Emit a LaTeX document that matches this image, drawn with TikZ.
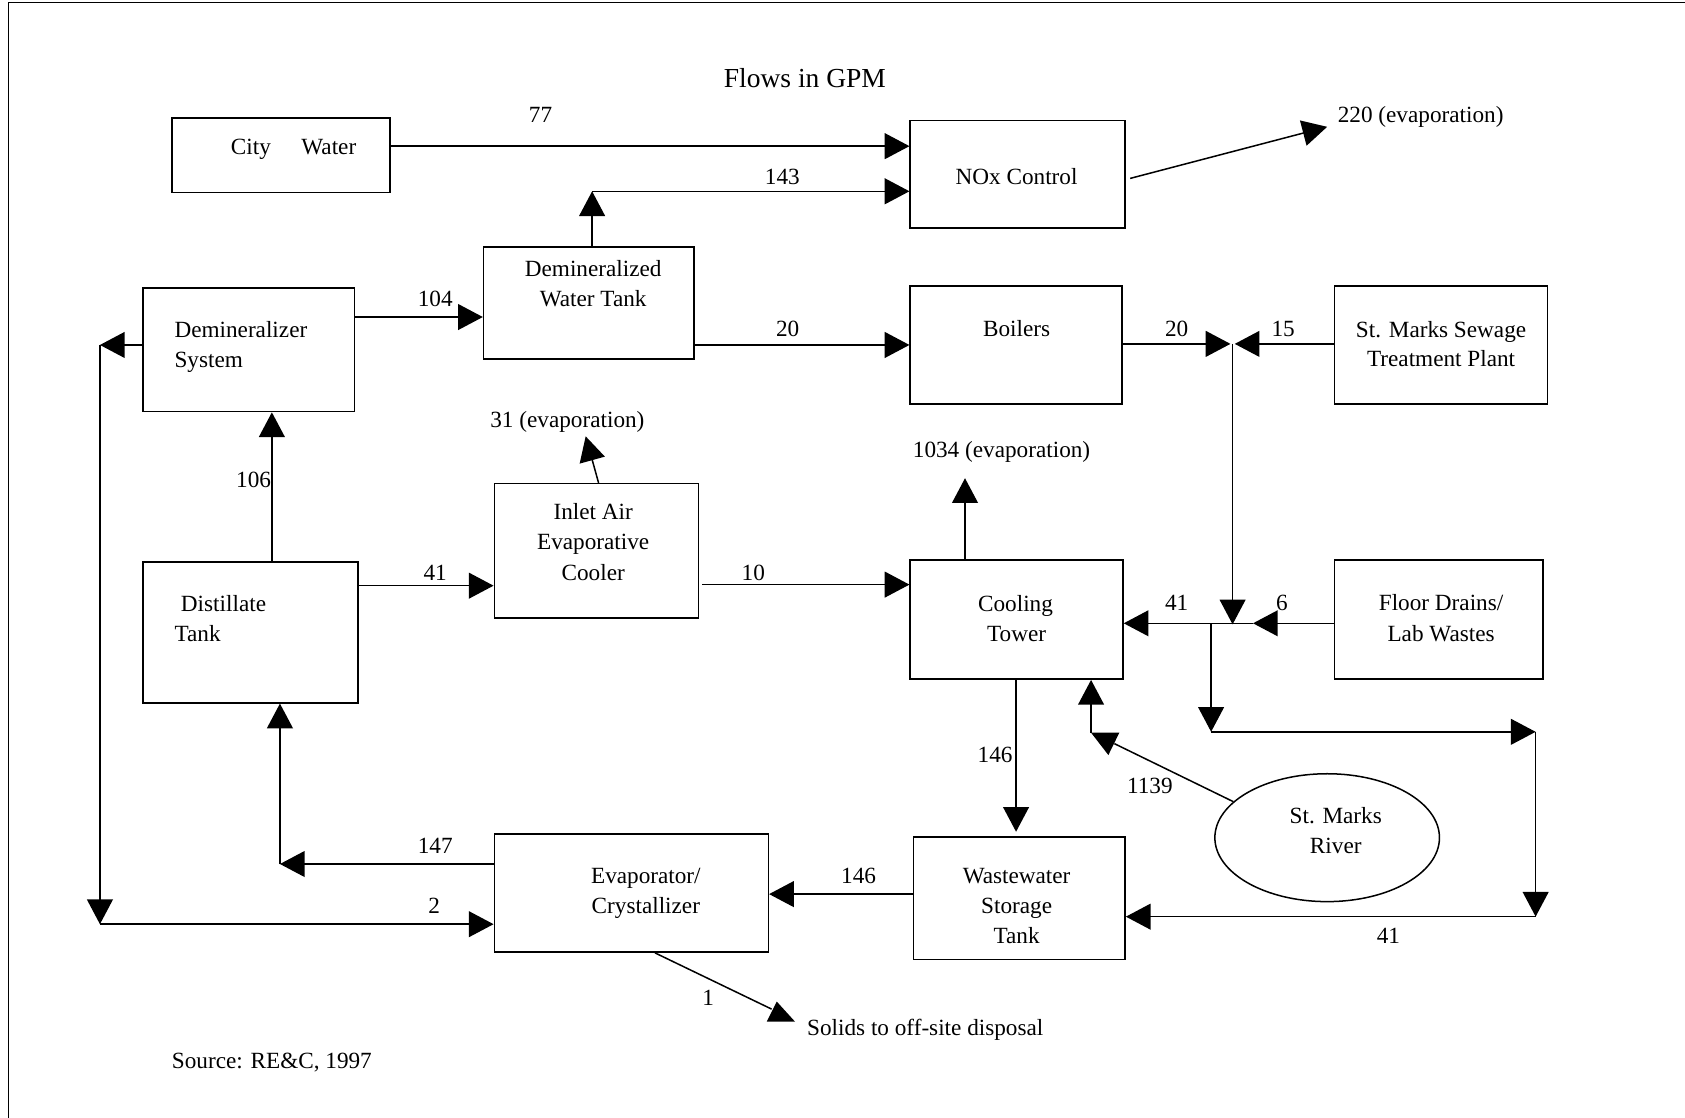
\documentclass[tikz,border=0pt]{standalone}
\usepackage{fontspec}
\setmainfont{Liberation Serif}
\usetikzlibrary{arrows.meta,fit,shapes.geometric}
\newcommand\mytxt[4]{\node[lbl] (#1) at (#2,#3) {#4};}
\newcommand\mytxtl[4]{\node[lbl,anchor=base west] (#1) at (#2,#3) {#4};}
\begin{document}
\begin{tikzpicture}[x=0.5pt,y=-0.5pt,
  box/.style={draw,line width=0.7pt,inner sep=0pt},
  arr/.style={line width=0.7pt,-{Triangle[length=11.5pt,width=12pt]}},
  ln/.style={line width=0.7pt},
  lbl/.style={font=\fontsize{10.8}{13}\selectfont,inner sep=0pt,anchor=base}]
\useasboundingbox (0,0) rectangle (1568,1040);
% page frame
\draw[line width=0.6pt] (8,1040) -- (8,2.5) -- (1568,2.5);

% title
\node[lbl,font=\fontsize{12.8}{15}\selectfont] (title) at (749,81) {Flows in GPM};

% boxes
\node[box,fit={(160,110) (363,179)}] (cw) {};
\node[box,fit={(847,112) (1047,212)}] (nox) {};
\node[box,fit={(450,230) (646,334)}] (dwt) {};
\node[box,fit={(133,268) (330,383)}] (ds) {};
\node[box,fit={(847,266) (1044,376)}] (boil) {};
\node[box,fit={(1242,266) (1440,376)}] (sew) {};
\node[box,fit={(460,450) (650,575)}] (iac) {};
\node[box,fit={(133,523) (333,654)}] (dt) {};
\node[box,fit={(847,521) (1045,632)}] (ct) {};
\node[box,fit={(1242,521) (1436,632)}] (fd) {};
\node[box,fit={(460,776) (715,886)}] (evap) {};
\node[box,fit={(850,779) (1047,893)}] (wst) {};
\node[box,ellipse,minimum width=104.5pt,minimum height=59.5pt] (river) at (1235,779.5) {};

% box texts
\mytxt{cw1}{233.5}{144}{City}
\mytxt{cw2}{306}{144}{Water}
\mytxt{nox1}{946}{172}{NOx Control}
\mytxt{dwt1}{552}{257}{Demineralized}
\mytxt{dwt2}{552}{285}{Water Tank}
\mytxtl{ds1}{162}{314}{Demineralizer}
\mytxtl{ds2}{162}{342}{System}
\mytxt{boil1}{946}{313}{Boilers}
\mytxt{sew1}{1341}{314}{St. Marks Sewage}
\mytxt{sew2}{1341}{341}{Treatment Plant}
\mytxt{iac1}{552}{483}{Inlet Air}
\mytxt{iac2}{552}{511}{Evaporative}
\mytxt{iac3}{552}{540}{Cooler}
\mytxtl{dt1}{168}{569}{Distillate}
\mytxtl{dt2}{162}{597}{Tank}
\mytxt{ct1}{945}{569}{Cooling}
\mytxt{ct2}{946}{597}{Tower}
\mytxt{fd1}{1341}{568}{Floor Drains/}
\mytxt{fd2}{1341}{597}{Lab Wastes}
\mytxt{ev1}{601}{822}{Evaporator/}
\mytxt{ev2}{601}{850}{Crystallizer}
\mytxt{ws1}{946}{822}{Wastewater}
\mytxt{ws2}{946}{850}{Storage}
\mytxt{ws3}{946}{878}{Tank}
\mytxt{rv1}{1243}{766}{St. Marks}
\mytxt{rv2}{1243}{794}{River}

% outlet text nodes
\mytxt{ev220}{1322}{114}{220 (evaporation)}
\mytxt{ev31}{528}{398}{31 (evaporation)}
\mytxt{ev1034}{932}{426}{1034 (evaporation)}
\mytxt{solids}{861}{964}{Solids to off-site disposal}
\mytxt{src}{253}{994}{Source: RE\&C, 1997}

% junction / bend coordinates
\coordinate (c143) at (551,178);
\coordinate (jt) at (1147,320);
\coordinate (jb) at (1147,581);
\coordinate (j6) at (1166,580);
\coordinate (jd) at (1127,580);
\coordinate (jd2) at (1127,681);
\coordinate (jr2) at (1429,681);
\coordinate (jr3) at (1429,853);
\coordinate (c147) at (260.5,804);
\coordinate (cl1) at (93,321);
\coordinate (cl2) at (93,860);
\coordinate (e220) at (1235,118);
\coordinate (e31) at (545,406);
\coordinate (e1034) at (898,445);
\coordinate (rvend) at (1037,692);
\coordinate (rvup) at (1015.3,682);
\coordinate (sol) at (718,939);

% connectors
\draw[arr] (cw.east |- 0,136) -- (nox.west |- 0,136);
\draw[arr] (551,0 |- dwt.north) -- (c143);
\draw[arr] (c143) -- (nox.west |- c143);
\draw[arr] (ds.east |- 0,295) -- (dwt.west |- 0,295);
\draw[arr] (dwt.east |- 0,321) -- (boil.west |- 0,321);
\draw[arr] (boil.east |- jt) -- ([xshift=-1pt]jt);
\draw[arr] (sew.west |- jt) -- ([xshift=1pt]jt);
\draw[arr] (jt) -- (jb);
\draw[arr] (fd.west |- j6) -- (j6);
\draw[arr] (j6) -- (ct.east |- j6);
\draw[arr] (jd) -- (jd2);
\draw[arr] (jd2) -- (jr2);
\draw[arr] (jr2) -- (jr3);
\draw[arr] (jr3) -- (wst.east |- jr3);
\draw[arr] ([shift={(2pt,-2pt)}]nox.east) -- (e220);
\draw[arr] (557,0 |- iac.north) -- (e31);
\draw[arr] (898,0 |- ct.north) -- (e1034);
\draw[arr] (253,0 |- dt.north) -- (253,0 |- ds.south);
\draw[arr] (dt.east |- 0,545) -- (iac.west |- 0,545);
\draw[arr] ([xshift=1.5pt]iac.east |- 0,544) -- (ct.west |- 0,544);
\draw[arr] (945.5,0 |- ct.south) -- (945.5,774);
\draw[ln] (river.159) -- (rvend);
\fill (1015.3,681.8) -- (1041.6,681.8) -- (1031.4,702.6) -- cycle;
\draw[arr] (rvup) -- (rvup |- ct.south);
\draw[arr] (wst.west |- 0,832) -- (evap.east |- 0,832);
\draw[arr] (evap.west |- c147) -- (c147);
\draw[arr] (c147) -- (c147 |- dt.south);
\draw[arr] (ds.west |- cl1) -- (cl1);
\draw[arr] (cl1) -- (cl2);
\draw[arr] (cl2) -- (evap.west |- cl2);
\draw[ln] (609.5,0 |- evap.south) -- (sol);
\fill (722.8,932) -- (739.8,950.7) -- (713.5,950.7) -- cycle;

% flow labels
\mytxt{l77}{503}{114}{77}
\mytxt{l143}{728}{172}{143}
\mytxt{l104}{405}{285}{104}
\mytxt{l20a}{733}{313}{20}
\mytxt{l20b}{1095}{313}{20}
\mytxt{l15}{1194}{313}{15}
\mytxt{l106}{236}{454}{106}
\mytxt{l41a}{405}{540}{41}
\mytxt{l10}{701}{540}{10}
\mytxt{l41b}{1095}{568}{41}
\mytxt{l6}{1193}{568}{6}
\mytxt{l146a}{926}{710}{146}
\mytxt{l1139}{1070}{738}{1139}
\mytxt{l147}{405}{794}{147}
\mytxt{l146b}{799}{822}{146}
\mytxt{l2}{404}{850}{2}
\mytxt{l41c}{1292}{878}{41}
\mytxt{l1}{659}{936}{1}
\end{tikzpicture}
\end{document}
